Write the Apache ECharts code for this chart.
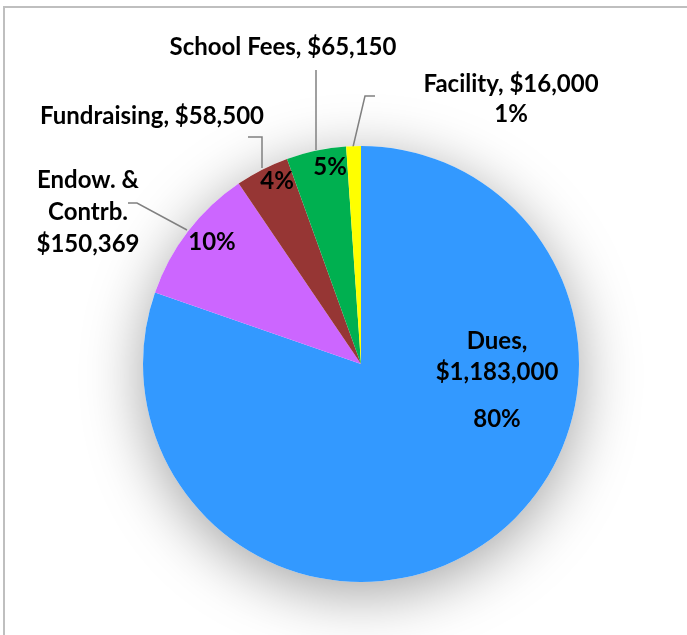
<!DOCTYPE html>
<html>
<head>
<meta charset="utf-8">
<script src="https://cdn.jsdelivr.net/npm/echarts@6/dist/echarts.min.js"></script>
<style>
  html, body { margin: 0; padding: 0; background: #fff; }
  #chart { width: 687px; height: 635px; }
</style>
</head>
<body>
<div id="chart"></div>
<script>
// data
const categories = ['Dues', 'Endow. &\nContrb.', 'Fundraising', 'School Fees', 'Facility'];
const values = [1183000, 150369, 58500, 65150, 16000];
const pctLabels = ['80%', '10%', '4%', '5%', '1%'];
const colors = ['#3399FF', '#CC66FF', '#963634', '#00B050', '#FFFF00'];

const FONT = 'Lato, "Open Sans", sans-serif';
const FS = 24;
const CENTER = [361, 364];
const R = 218;

const money = v => '$' + v.toLocaleString('en-US');

// where the outside labels sit (label centre + leader line)
const outsidePos = {
  1: { x: 88, y: 212, line: [[187, 230], [137, 203], [128, 203]] },
  2: { x: 152, y: 116, line: [[262, 168], [262, 137], [248, 137]] },
  3: { x: 283, y: 47, line: [[316, 150], [316, 110], [316, 70]] },
  4: { x: 511, y: 99, line: [[353, 147], [365, 96], [375, 96]] }
};
// percentage labels near the rim, and the Dues block
const insidePos = {
  0: { x: 497, y: 388 },
  1: { x: 212, y: 242 },
  2: { x: 277, y: 181 },
  3: { x: 330, y: 167 }
};

function outsideText(i) {
  if (i === 1) return categories[i] + '\n' + money(values[i]);
  if (i === 4) return categories[i] + ', ' + money(values[i]) + '\n' + pctLabels[i];
  return categories[i] + ', ' + money(values[i]);
}

const chart = echarts.init(document.getElementById('chart'), null, { renderer: 'canvas' });

const option = {
  backgroundColor: '#fff',
  animation: false,
  graphic: [{
    type: 'rect',
    shape: { x: 4, y: 7, width: 900, height: 900 },
    style: { fill: 'none', stroke: '#bfbfbf', lineWidth: 2 },
    silent: true
  }],
  series: [
    {
      // soft shadow behind the pie
      type: 'pie',
      center: CENTER,
      radius: R,
      silent: true,
      z: 1,
      label: { show: false },
      labelLine: { show: false },
      itemStyle: {
        color: '#fff',
        shadowBlur: 60,
        shadowColor: 'rgba(0,0,0,0.36)',
        shadowOffsetY: 12
      },
      data: [{ value: 1, name: 'bg' }]
    },
    {
      type: 'pie',
      center: CENTER,
      radius: R,
      startAngle: 90,
      clockwise: true,
      silent: true,
      z: 2,
      avoidLabelOverlap: false,
      label: {
        position: 'outside',
        color: '#000',
        fontFamily: FONT,
        fontWeight: 'bold',
        fontSize: FS,
        align: 'center',
        formatter: p => outsideText(p.dataIndex)
      },
      labelLine: {
        show: true,
        smooth: false,
        lineStyle: { color: '#808080', width: 1.5 }
      },
      labelLayout: function (params) {
        const p = outsidePos[params.dataIndex];
        if (!p) return {};
        return { x: p.x, y: p.y, align: 'center', verticalAlign: 'middle', labelLinePoints: p.line };
      },
      data: categories.map((c, i) => ({
        name: c,
        value: values[i],
        itemStyle: { color: colors[i] },
        label: { show: i !== 0, lineHeight: i === 4 ? 30 : 32 },
        labelLine: { show: i !== 0 }
      }))
    },
    {
      // transparent copy that carries the labels inside the slices
      type: 'pie',
      center: CENTER,
      radius: [172, R],
      startAngle: 90,
      clockwise: true,
      silent: true,
      z: 3,
      avoidLabelOverlap: false,
      itemStyle: { color: 'rgba(0,0,0,0)' },
      label: {
        position: 'inside',
        color: '#000',
        fontFamily: FONT,
        fontWeight: 'bold',
        fontSize: FS,
        formatter: p => {
          const i = p.dataIndex;
          if (i === 0) {
            return '{a|Dues,}\n{a|' + money(values[i]) + '}\n{b|' + pctLabels[i] + '}';
          }
          return pctLabels[i];
        },
        rich: {
          a: { fontFamily: FONT, fontWeight: 'bold', fontSize: FS, lineHeight: 31, color: '#000' },
          b: { fontFamily: FONT, fontWeight: 'bold', fontSize: FS, lineHeight: 63, color: '#000' }
        }
      },
      labelLine: { show: false },
      labelLayout: function (params) {
        const p = insidePos[params.dataIndex];
        if (!p) return {};
        return { x: p.x, y: p.y, align: 'center', verticalAlign: 'middle' };
      },
      data: categories.map((c, i) => ({
        name: c,
        value: values[i],
        label: { show: i !== 4 }
      }))
    }
  ]
};

chart.setOption(option);
</script>
</body>
</html>
